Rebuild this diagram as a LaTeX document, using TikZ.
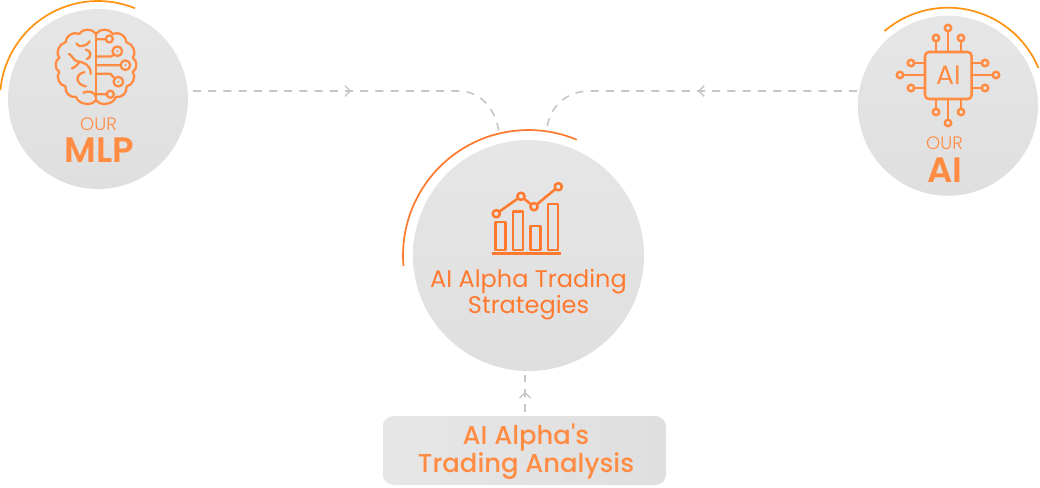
\documentclass[tikz,border=0pt]{standalone}
\usepackage{fontspec}
\setmainfont{Poppins}
\newfontfamily\poplight{Poppins Light}
\newfontfamily\popmed{Poppins Medium}
\newfontfamily\popsemi{Poppins SemiBold}
\usetikzlibrary{arrows.meta,decorations.markings,calc}
\definecolor{ringA}{HTML}{FF9414}
\definecolor{ringB}{HTML}{FF7A2F}
\definecolor{ico}{HTML}{FF8C42}
\definecolor{icoB}{HTML}{FF7A2F}
\definecolor{flow}{HTML}{C6C6C6}
\definecolor{discA}{HTML}{E6E6E6}
\definecolor{discB}{HTML}{DFDFDF}
\tikzset{
  x=0.75pt,y=0.75pt,
  disc/.style={circle,inner sep=0pt,outer sep=0pt,shading angle=-25,top color=discA,bottom color=discB},
  panel/.style={rounded corners=8pt,inner sep=0pt,outer sep=0pt,left color=discA,right color=discB,minimum width=212.25pt,minimum height=51.75pt},
  ring/.style={line width=1.3pt,line cap=butt},
  icon/.style={draw=ico,line width=1.9pt,line cap=round,line join=round},
  brainline/.style={icon,line width=1.7pt},
  iconB/.style={draw=icoB,line width=1.9pt,line cap=butt,line join=round},
  flowline/.style={draw=flow,line width=1.2pt,dash pattern=on 6pt off 5.4pt,postaction={decorate}},
  midtip/.style={decoration={markings,mark=at position #1 with {\arrow{Straight Barb[length=4pt,width=8pt,line width=1pt,color=flow]}}}},
  lab/.style={text=ico,inner sep=0pt,align=center},
}
\begin{document}
\begin{tikzpicture}
\useasboundingbox (0,0) rectangle (1040,-487);
% discs
\node[disc,minimum size=135pt] (mlp) at (98,-99) {};
\node[disc,minimum size=135pt] (ai) at (948,-105.7) {};
\node[disc,minimum size=173.25pt] (core) at (528.5,-255.5) {};
\node[panel] (box) at (524.5,-450.5) {};
% rings
\draw[ring,draw=ringA] (mlp.center) ++(174.7:73.5pt) arc[start angle=174.7,end angle=67.9,radius=73.5pt];
\draw[ring,draw=ringA] (ai.center) ++(130.4:73.5pt) arc[start angle=130.4,end angle=22.7,radius=73.5pt];
\draw[ring,draw=ringB] (core.center) ++(184.8:94.1pt) arc[start angle=184.8,end angle=67.4,radius=94.1pt];
% connector ends
\coordinate (mlpout) at (193,-91);
\coordinate (aiout) at (857,-91);
\coordinate (coreL) at (499,-133);
\coordinate (coreR) at (546.7,-130);
\coordinate (boxout) at (525,-412);
\coordinate (coreB) at (525,-375);
\path[flowline,midtip=0.48] (mlpout) -- (458,-91) .. controls (482,-91) and (496,-110) .. (coreL);
\path[flowline,midtip=0.48] (aiout) -- (590,-91) .. controls (565,-91) and (549,-108) .. (coreR);
\path[flowline,midtip=0.55] (boxout) -- (coreB);
% MLP texts
\node[lab,font=\poplight\fontsize{13.5}{14}\selectfont] (ourmlp) at (98.5,-124.5) {OUR};
\node[lab,font=\popsemi\fontsize{26.5}{27}\selectfont] (mlpname) at (99,-150) {MLP};
% AI texts
\node[lab,font=\poplight\fontsize{13.5}{14}\selectfont] (ourai) at (944.5,-143.5) {OUR};
\node[lab,font=\popsemi\fontsize{26.5}{27}\selectfont] (ainame) at (945,-170) {AI};
% core and box texts
\node[lab,text=icoB,font=\fontsize{18}{19.5}\selectfont] (coretext) at (528.5,-295) {AI Alpha Trading\\Strategies};
\node[lab,font=\popmed\fontsize{19.4}{19.5}\selectfont] (boxtext) at (526,-452) {AI Alpha's\\Trading Analysis};
% brain icon
\begin{scope}[shift={(96,-67.5)},scale=1.05]
\draw[brainline] (0,32) to[bend left=60] (16,32) to[bend left=60] (29,24) to[bend left=60] (35,9) to[bend left=65] (35,-4)
  to[bend left=60] (29,-18) to[bend left=60] (19,-28) to[bend left=65] (0,-31)
  to[bend left=65] (-19,-28) to[bend left=60] (-29,-18) to[bend left=60] (-35,-4) to[bend left=65] (-35,9)
  to[bend left=60] (-29,24) to[bend left=60] (-16,32) to[bend left=60] cycle;
\draw[brainline] (0,32) -- (0,-31);
\draw[brainline] (0,27) -- (9,27) (0,10.5) -- (14,10.5) -- (17,12) (0,2.2) -- (23,2.2) (0,-6) -- (13.7,-6) -- (17,-9.5) (0,-25.5) -- (10,-25.5);
\draw[brainline] (12.7,27.2) circle[radius=3.4];
\draw[brainline] (20.3,15.5) circle[radius=4.6];
\draw[brainline] (28,2.2) circle[radius=4.6];
\draw[brainline] (21.3,-13.5) circle[radius=4.6];
\draw[brainline] (13.7,-25.5) circle[radius=3.4];
\fill[ico] (20.3,15.5) circle[radius=1] (28,2.2) circle[radius=1] (21.3,-13.5) circle[radius=1];
% left lobes
\draw[brainline] (-18.7,23) .. controls (-16,20) and (-15,20) .. (-13,20.5) .. controls (-10,21) and (-8,22) .. (-6,25);
\draw[brainline] (-9.7,17) .. controls (-5,16) and (-3,11) .. (-8.7,8);
\draw[brainline] (-25.7,13) .. controls (-22,11) and (-22,7) .. (-18,6) .. controls (-12,5) and (-5,3) .. (-5,-6);
\draw[brainline] (-16,5) .. controls (-18,2) and (-20,0) .. (-23,-1);
\draw[brainline] (-11,-4.5) .. controls (-20,-6) and (-20,-16) .. (-9.7,-18);
\draw[brainline] (-12,-24) .. controls (-8,-22) and (-1,-22) .. (0,-29);
\end{scope}
% chip icon
\draw[icon,rounded corners=3pt] (925,-52) rectangle (971.7,-99);
\node[lab,font=\fontsize{20}{21}\selectfont] (chiptext) at (948.3,-75.5) {AI};
\foreach \x/\y/\ex/\ey in {948/-28/948/-52,936/-38/936/-52,961/-38/961/-52,948/-123/948/-99,936/-112/936/-99,961/-112/961/-99,900/-75/925/-75,911/-63/925/-63,911/-88/925/-88,996/-75/971.7/-75,985/-63/971.7/-63,985/-88/971.7/-88}{
  \draw[icon] (\x,\y) -- (\ex,\ey);
  \filldraw[icon,fill=discA] (\x,\y) circle[radius=3.2];
}
% chart icon
\draw[iconB] (495.5,-250) rectangle (505.5,-222);
\draw[iconB] (513,-250) rectangle (523,-211.5);
\draw[iconB] (530.5,-250) rectangle (540.5,-226);
\draw[iconB] (548,-250) rectangle (558,-204);
\draw[iconB] (491.7,-253.5) -- (561,-253.5);
\draw[iconB] (496.3,-213.7) -- (521,-196.3) -- (534,-206.7) -- (558.3,-186.7);
\foreach \x/\y in {496.3/-213.7,521/-196.3,534/-206.7,558.3/-186.7}{
  \filldraw[iconB,fill=discA] (\x,\y) circle[radius=3.6];
}
\end{tikzpicture}
\end{document}
